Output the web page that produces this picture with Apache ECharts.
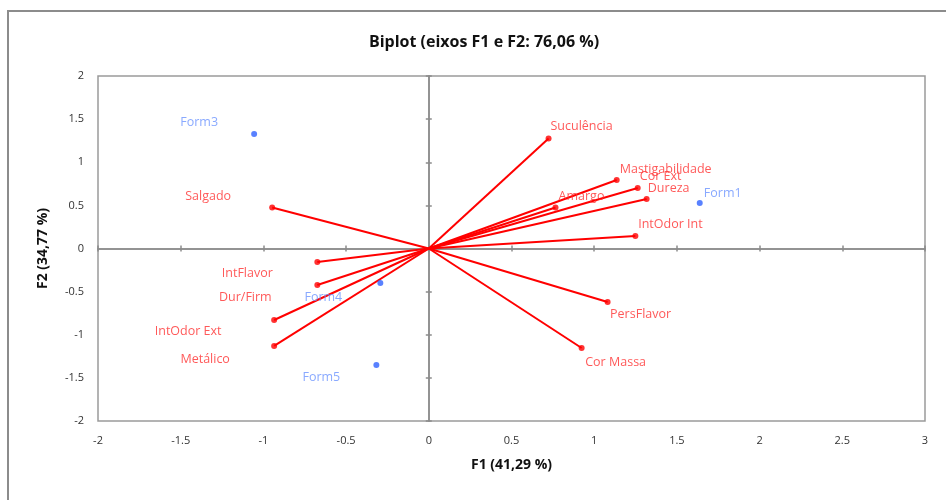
<!DOCTYPE html>
<html>
<head>
<meta charset="utf-8">
<script src="https://cdn.jsdelivr.net/npm/echarts@6/dist/echarts.min.js"></script>
<style>html,body{margin:0;padding:0;background:#fff}#c{width:946px;height:500px}</style>
</head>
<body>
<div id="c"></div>
<script>
// ---- data ----
const varNames = ['Suculência','Mastigabilidade','Cor Ext','Dureza','Amargo','IntOdor Int','PersFlavor','Cor Massa','Salgado','IntFlavor','Dur/Firm','IntOdor Ext','Metálico'];
const varF1 = [0.724, 1.136, 1.263, 1.317, 0.766, 1.249, 1.081, 0.924, -0.947, -0.674, -0.674, -0.935, -0.935];
const varF2 = [1.275, 0.794, 0.701, 0.574, 0.475, 0.145, -0.620, -1.154, 0.475, -0.157, -0.423, -0.829, -1.130];
const obsNames = ['Form3','Form1','Form4','Form5'];
const obsF1 = [-1.056, 1.638, -0.293, -0.317];
const obsF2 = [1.328, 0.528, -0.400, -1.351];
const xTicks = [-2,-1.5,-1,-0.5,0,0.5,1,1.5,2,2.5,3];
const yTicks = [-2,-1.5,-1,-0.5,0,0.5,1,1.5,2];

// ---- layout (label offsets, px) ----
const varLabelOffsets = [[33,-12],[49,-11],[23,-12],[22,-11],[26,-11],[35,-12],[33,12],[34,14],[-64,-11],[-70,11],[-72,12],[-86,11],[-69,13]];
const obsLabelOffsets = [[-55,-12],[23,-10],[-57,14],[-55,12]];

const FONT = 'Open Sans';
const chart = echarts.init(document.getElementById('c'), null, {renderer:'canvas'});

const xMin = xTicks[0], xMax = xTicks[xTicks.length-1];
const yMin = yTicks[0], yMax = yTicks[yTicks.length-1];

const axisLabelStyle = {color:'#333', fontFamily:FONT, fontSize:11};

function zeroXAxis(pos){
  return {type:'value', gridIndex:0, min:xMin, max:xMax, interval:0.5, position:pos,
    axisLine:{show:true, onZero:true, lineStyle:{color:'#8c8c8c', width:1.5}},
    axisTick:{show:true, length:3, lineStyle:{color:'#8c8c8c', width:1.5}},
    axisLabel:{show:false}, splitLine:{show:false}};
}
function zeroYAxis(pos){
  return {type:'value', gridIndex:0, min:yMin, max:yMax, interval:0.5, position:pos,
    axisLine:{show:true, onZero:true, lineStyle:{color:'#8c8c8c', width:1.5}},
    axisTick:{show:true, length:3, lineStyle:{color:'#8c8c8c', width:1.5}},
    axisLabel:{show:false}, splitLine:{show:false}};
}

const option = {
  backgroundColor:'#fff',
  animation:false,
  title:{text:'Biplot (eixos F1 e F2: 76,06 %)', left:479, top:29, textAlign:'center',
    textStyle:{fontFamily:FONT, fontSize:16, fontWeight:'bold', color:'#111'}},
  graphic:[{type:'rect', shape:{x:8, y:11, width:960, height:520}, style:{fill:'none', stroke:'#8c8c8c', lineWidth:2}, silent:true}],
  grid:{left:98, top:76, width:827, height:345, show:true, borderColor:'#9a9a9a', borderWidth:1.5, backgroundColor:'transparent'},
  xAxis:[
    {type:'value', min:xMin, max:xMax, interval:0.5, position:'bottom',
     name:'F1 (41,29 %)', nameLocation:'middle', nameGap:37,
     nameTextStyle:{fontFamily:FONT, fontSize:14, fontWeight:'bold', color:'#111'},
     axisLine:{show:false, onZero:false}, axisTick:{show:false}, splitLine:{show:false},
     axisLabel:Object.assign({margin:14}, axisLabelStyle)},
    zeroXAxis('bottom'), zeroXAxis('top')
  ],
  yAxis:[
    {type:'value', min:yMin, max:yMax, interval:0.5, position:'left',
     name:'F2 (34,77 %)', nameLocation:'middle', nameGap:48,
     nameTextStyle:{fontFamily:FONT, fontSize:14, fontWeight:'bold', color:'#111'},
     axisLine:{show:false, onZero:false}, axisTick:{show:false}, splitLine:{show:false},
     axisLabel:Object.assign({margin:14}, axisLabelStyle)},
    zeroYAxis('left'), zeroYAxis('right')
  ],
  series:[
    {type:'lines', coordinateSystem:'cartesian2d', xAxisIndex:0, yAxisIndex:0,
     lineStyle:{color:'#ff0000', width:2, opacity:1}, silent:true,
     data: varNames.map((n,i)=>({coords:[[0,0],[varF1[i], varF2[i]]]}))},
    {type:'scatter', xAxisIndex:0, yAxisIndex:0, symbol:'circle', symbolSize:6,
     itemStyle:{color:'#ff0000'},
     data: varNames.map((n,i)=>({value:[varF1[i], varF2[i]], name:n,
       label:{show:true, position:'inside', offset:varLabelOffsets[i], formatter:n,
         color:'#ff3030', fontFamily:FONT, fontSize:12.5}}))},
    {type:'scatter', xAxisIndex:0, yAxisIndex:0, symbol:'circle', symbolSize:6,
     itemStyle:{color:'#2f62ff'},
     data: obsNames.map((n,i)=>({value:[obsF1[i], obsF2[i]], name:n,
       label:{show:true, position:'inside', offset:obsLabelOffsets[i], formatter:n,
         color:'#6b93ff', fontFamily:FONT, fontSize:12.5}}))}
  ]
};
chart.setOption(option);
</script>
</body>
</html>
